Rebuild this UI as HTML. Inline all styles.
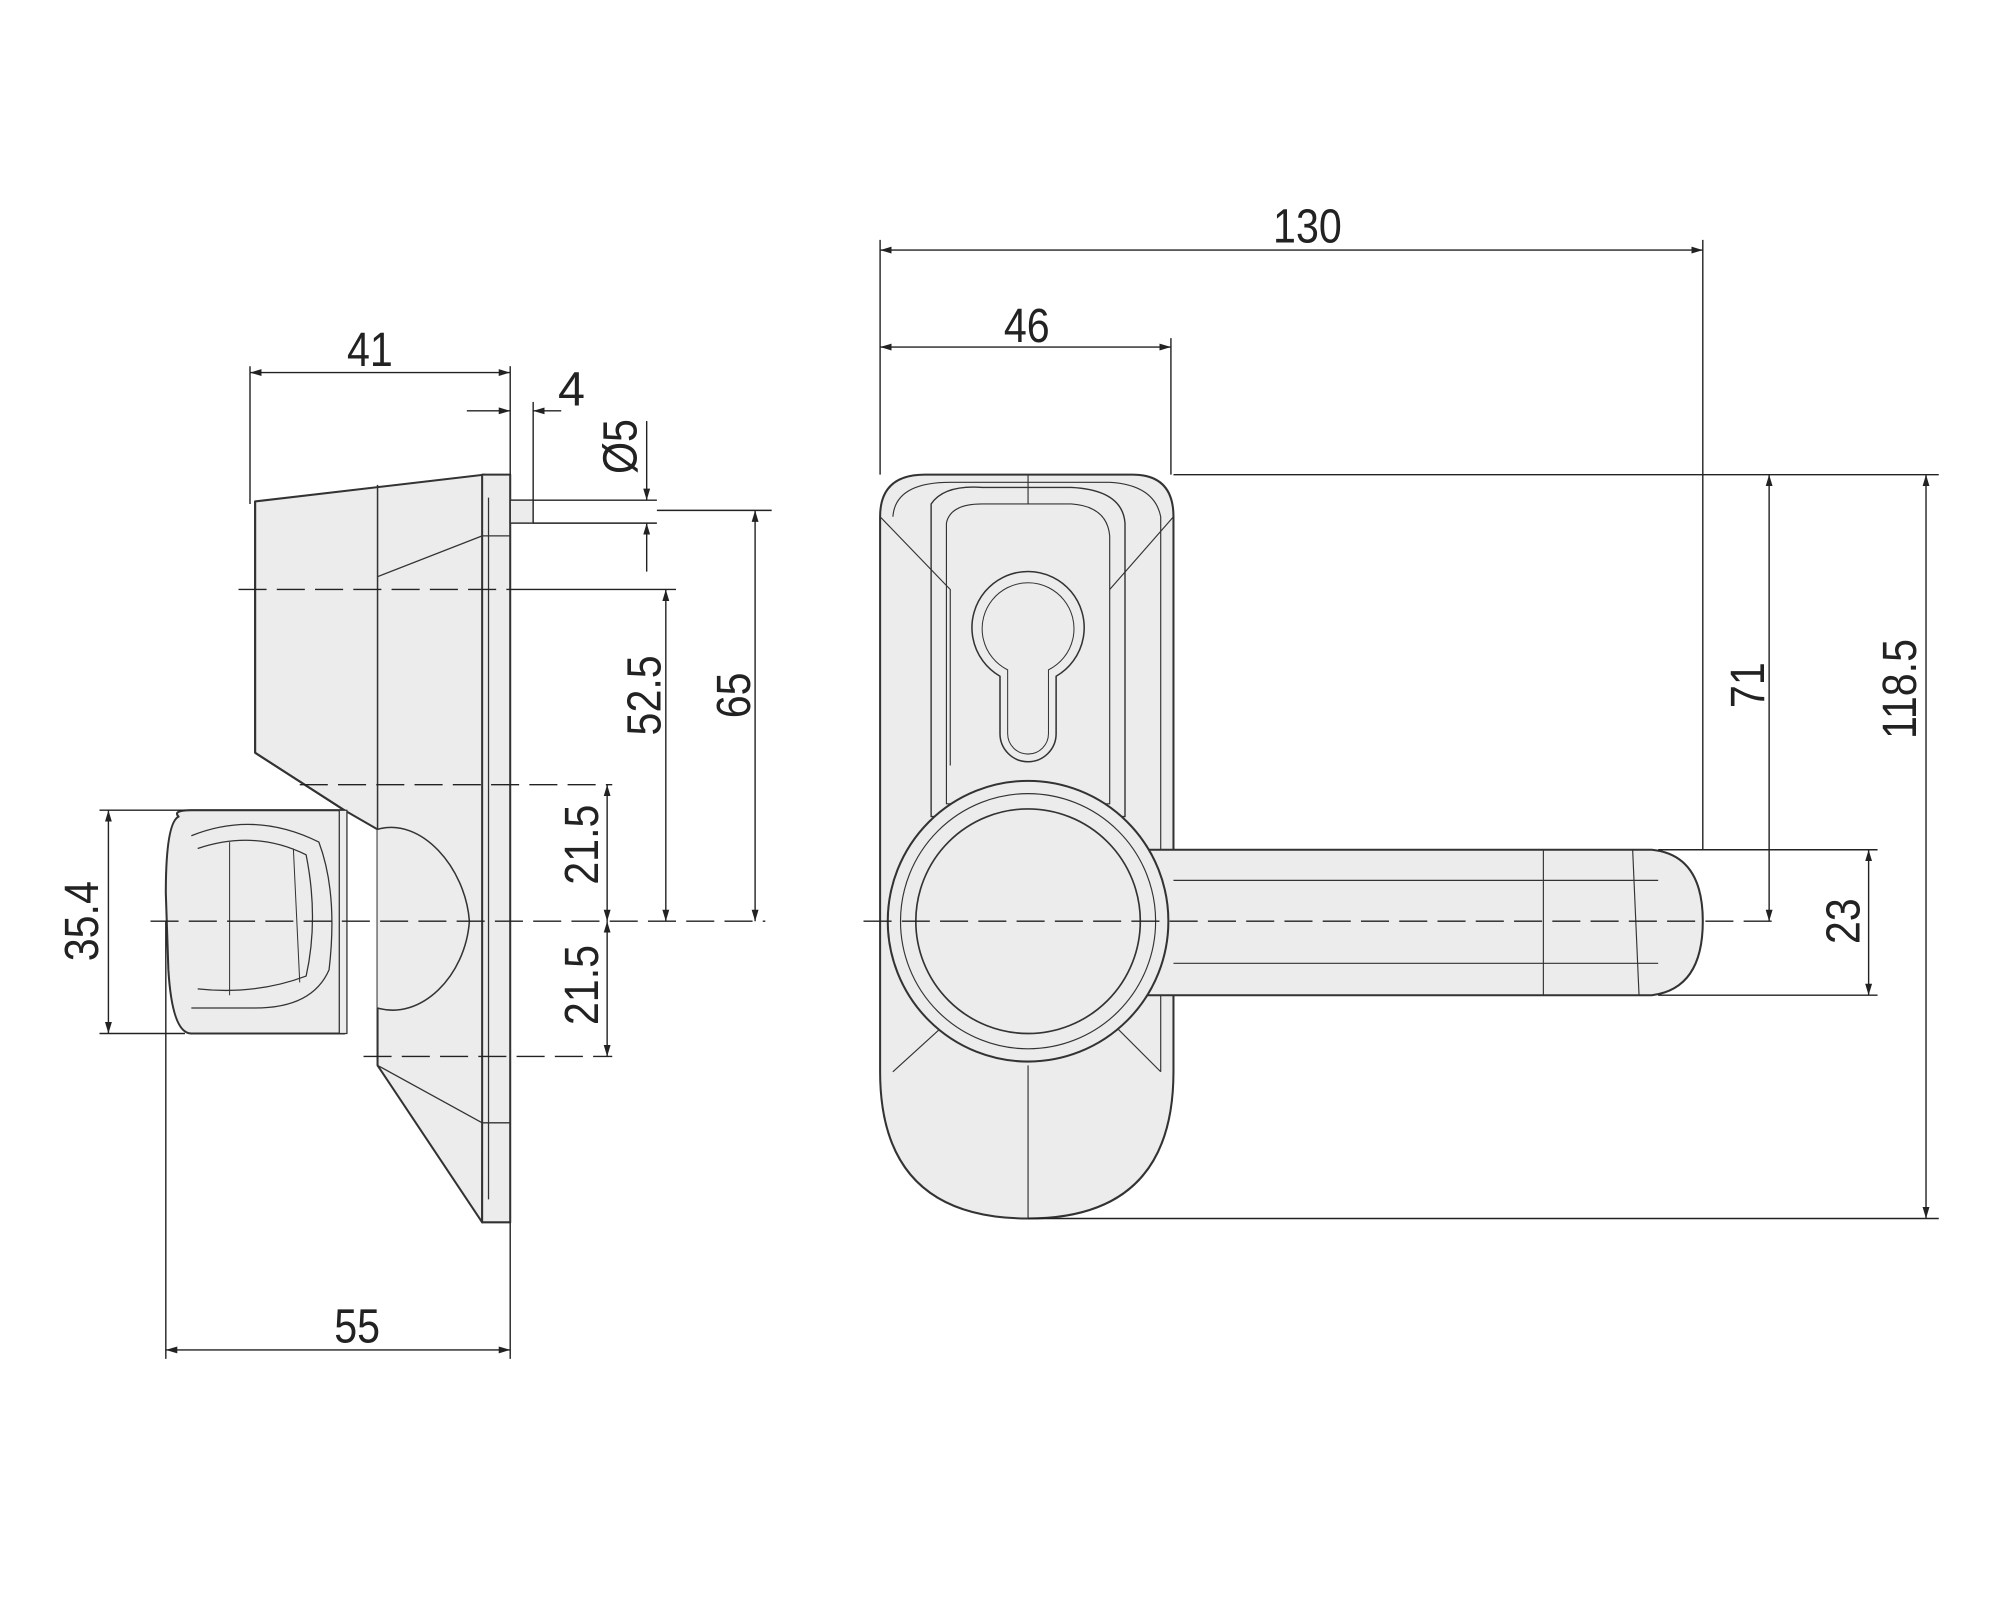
<!DOCTYPE html>
<html><head><meta charset="utf-8"><style>html,body{margin:0;padding:0;background:#fff}svg{display:block}</style></head>
<body>
<svg width="2000" height="1600" viewBox="0 0 1568 1254" preserveAspectRatio="none" xmlns="http://www.w3.org/2000/svg">
<defs>
<marker id="a" viewBox="0 0 10 10" refX="10" refY="5" markerWidth="9" markerHeight="9" orient="auto-start-reverse" markerUnits="userSpaceOnUse"><path d="M0,2 L10,5 L0,8 z" fill="#222"/></marker>
</defs>
<g fill="#ececec" stroke="#333" stroke-width="1.6" stroke-linejoin="round">
<!-- LEFT VIEW -->
<path d="M200,393 L380,372 L378,958 L296,835 L296,650 L270,635 L200,590 Z"/>
<rect x="378" y="372" width="22" height="586"/>
<line x1="383" y1="390" x2="383" y2="940" stroke-width="1"/>
<path d="M378,420 L400,420 M378,880 L400,880" stroke-width="1"/>
<line x1="296" y1="380" x2="296" y2="835" stroke-width="1.2"/>
<path d="M296,452 L378,420" stroke-width="1" fill="none"/>
<path d="M296,650 C330,640 365,680 368,722 C365,765 330,800 296,790" fill="#ececec" stroke-width="1.2"/>
<path d="M296,835 L378,880" fill="none" stroke-width="1"/>
<path d="M200,393 L200,590" fill="none"/>
<path d="M200,590 L270,635" fill="none"/>
<path d="M140,640 Q135,635 150,635 L270,635 L270,810 L150,810 Q135,810 132,760 L130,700 Q130,645 140,640 Z"/>
<rect x="266" y="635" width="6" height="175" stroke-width="1"/>
<path d="M150,655 Q200,635 250,660 Q265,700 258,760 Q245,790 200,790 L150,790" fill="none" stroke-width="1"/>
<path d="M155,665 Q200,650 240,670 Q250,720 240,765 Q200,780 155,775" fill="none" stroke-width="1"/>
<path d="M180,660 L180,780 M230,665 L235,770" fill="none" stroke-width="0.8"/>
<rect x="400" y="392" width="18" height="18" stroke-width="1.2"/>
<!-- RIGHT VIEW -->
<path d="M725,372 L888,372 Q920,372 920,405 L920,840 Q920,955 806,955 Q690,955 690,840 L690,405 Q690,372 725,372 Z"/>
<path d="M745,378 L870,378 Q905,380 910,405 L910,840 M700,405 Q702,378 745,378" fill="none" stroke-width="0.9"/>
<path d="M730,395 Q740,380 770,382 L840,382 Q880,384 882,410 L882,640 L730,640 Z" stroke-width="1.1"/>
<path d="M742,410 Q745,395 770,395 L840,395 Q868,397 870,420 L870,630 L742,630 Z" fill="none" stroke-width="0.9"/>
<path d="M690,405 L745,462 L745,600 M920,405 L870,462 M806,372 L806,395 M700,840 L755,790 M910,840 L860,790 M806,835 L806,955" fill="none" stroke-width="0.9"/>
<path d="M784,530 A44,44 0 1 1 828,530 L828,575 A22,22 0 0 1 784,575 Z" stroke-width="1.2"/>
<path d="M790,525 A36,36 0 1 1 822,525 L822,575 A16,16 0 0 1 790,575 Z" fill="none" stroke-width="0.8"/>
<path d="M900,666 L1295,666 Q1335,670 1335,722 Q1335,775 1295,780 L900,780 Z"/>
<path d="M1210,666 L1210,780 M1280,666 L1285,780 M920,690 L1300,690 M920,755 L1300,755" fill="none" stroke-width="0.9"/>
<circle cx="806" cy="722" r="110"/>
<circle cx="806" cy="722" r="100" fill="none" stroke-width="0.9"/>
<circle cx="806" cy="722" r="88" stroke-width="1.3"/>
</g>
<!-- dims & centerlines -->
<g stroke="#222" stroke-width="1.1" fill="none">
<g stroke-dasharray="22,8">
<line x1="187" y1="462" x2="410" y2="462"/>
<line x1="235" y1="615" x2="480" y2="615"/>
<line x1="118" y1="722" x2="600" y2="722"/>
<line x1="285" y1="828" x2="480" y2="828"/>
<line x1="677" y1="722" x2="1395" y2="722"/>
</g>
<line x1="196" y1="287" x2="196" y2="395"/>
<line x1="400" y1="287" x2="400" y2="372"/>
<line x1="418" y1="315" x2="418" y2="392"/>
<line x1="418" y1="392" x2="515" y2="392"/>
<line x1="418" y1="410" x2="515" y2="410"/>
<line x1="410" y1="462" x2="530" y2="462"/>
<line x1="515" y1="400" x2="605" y2="400"/>
<line x1="78" y1="635" x2="145" y2="635"/>
<line x1="78" y1="810" x2="145" y2="810"/>
<line x1="130" y1="722" x2="130" y2="1065"/>
<line x1="400" y1="958" x2="400" y2="1065"/>
<line x1="690" y1="188" x2="690" y2="372"/>
<line x1="1335" y1="188" x2="1335" y2="666"/>
<line x1="918" y1="265" x2="918" y2="372"/>
<line x1="920" y1="372" x2="1520" y2="372"/>
<line x1="806" y1="955" x2="1520" y2="955"/>
<line x1="1300" y1="666" x2="1472" y2="666"/>
<line x1="1300" y1="780" x2="1472" y2="780"/>
<g marker-start="url(#a)" marker-end="url(#a)">
<line x1="196" y1="292" x2="400" y2="292"/>
<line x1="522" y1="462" x2="522" y2="722"/>
<line x1="592" y1="400" x2="592" y2="722"/>
<line x1="476" y1="615" x2="476" y2="722"/>
<line x1="476" y1="722" x2="476" y2="828"/>
<line x1="85" y1="635" x2="85" y2="810"/>
<line x1="130" y1="1058" x2="400" y2="1058"/>
<line x1="690" y1="196" x2="1335" y2="196"/>
<line x1="690" y1="272" x2="918" y2="272"/>
<line x1="1387" y1="372" x2="1387" y2="722"/>
<line x1="1510" y1="372" x2="1510" y2="955"/>
<line x1="1465" y1="666" x2="1465" y2="780"/>
</g>
<line x1="366" y1="322" x2="400" y2="322" marker-end="url(#a)"/>
<line x1="440" y1="322" x2="418" y2="322" marker-end="url(#a)"/>
<line x1="507" y1="330" x2="507" y2="392" marker-end="url(#a)"/>
<line x1="507" y1="448" x2="507" y2="410" marker-end="url(#a)"/>
</g>
<g font-family="Liberation Sans, sans-serif" font-size="38" fill="#222" text-anchor="middle">
<text x="290" y="287" transform="translate(290 0) scale(0.85 1) translate(-290 0)">41</text>
<text x="448" y="318">4</text>
<text x="1025" y="190" transform="translate(1025 0) scale(0.85 1) translate(-1025 0)">130</text>
<text x="805" y="268" transform="translate(805 0) scale(0.85 1) translate(-805 0)">46</text>
<text x="280" y="1052" transform="translate(280 0) scale(0.85 1) translate(-280 0)">55</text>
<text transform="translate(499 350) rotate(-90) scale(0.85 1)">Ø5</text>
<text transform="translate(518 545) rotate(-90) scale(0.85 1)">52.5</text>
<text transform="translate(588 545) rotate(-90) scale(0.85 1)">65</text>
<text transform="translate(469 662) rotate(-90) scale(0.85 1)">21.5</text>
<text transform="translate(469 772) rotate(-90) scale(0.85 1)">21.5</text>
<text transform="translate(77 722) rotate(-90) scale(0.85 1)">35.4</text>
<text transform="translate(1383 537) rotate(-90) scale(0.85 1)">71</text>
<text transform="translate(1502 540) rotate(-90) scale(0.85 1)">118.5</text>
<text transform="translate(1458 722) rotate(-90) scale(0.85 1)">23</text>
</g>
</svg>
</body></html>
